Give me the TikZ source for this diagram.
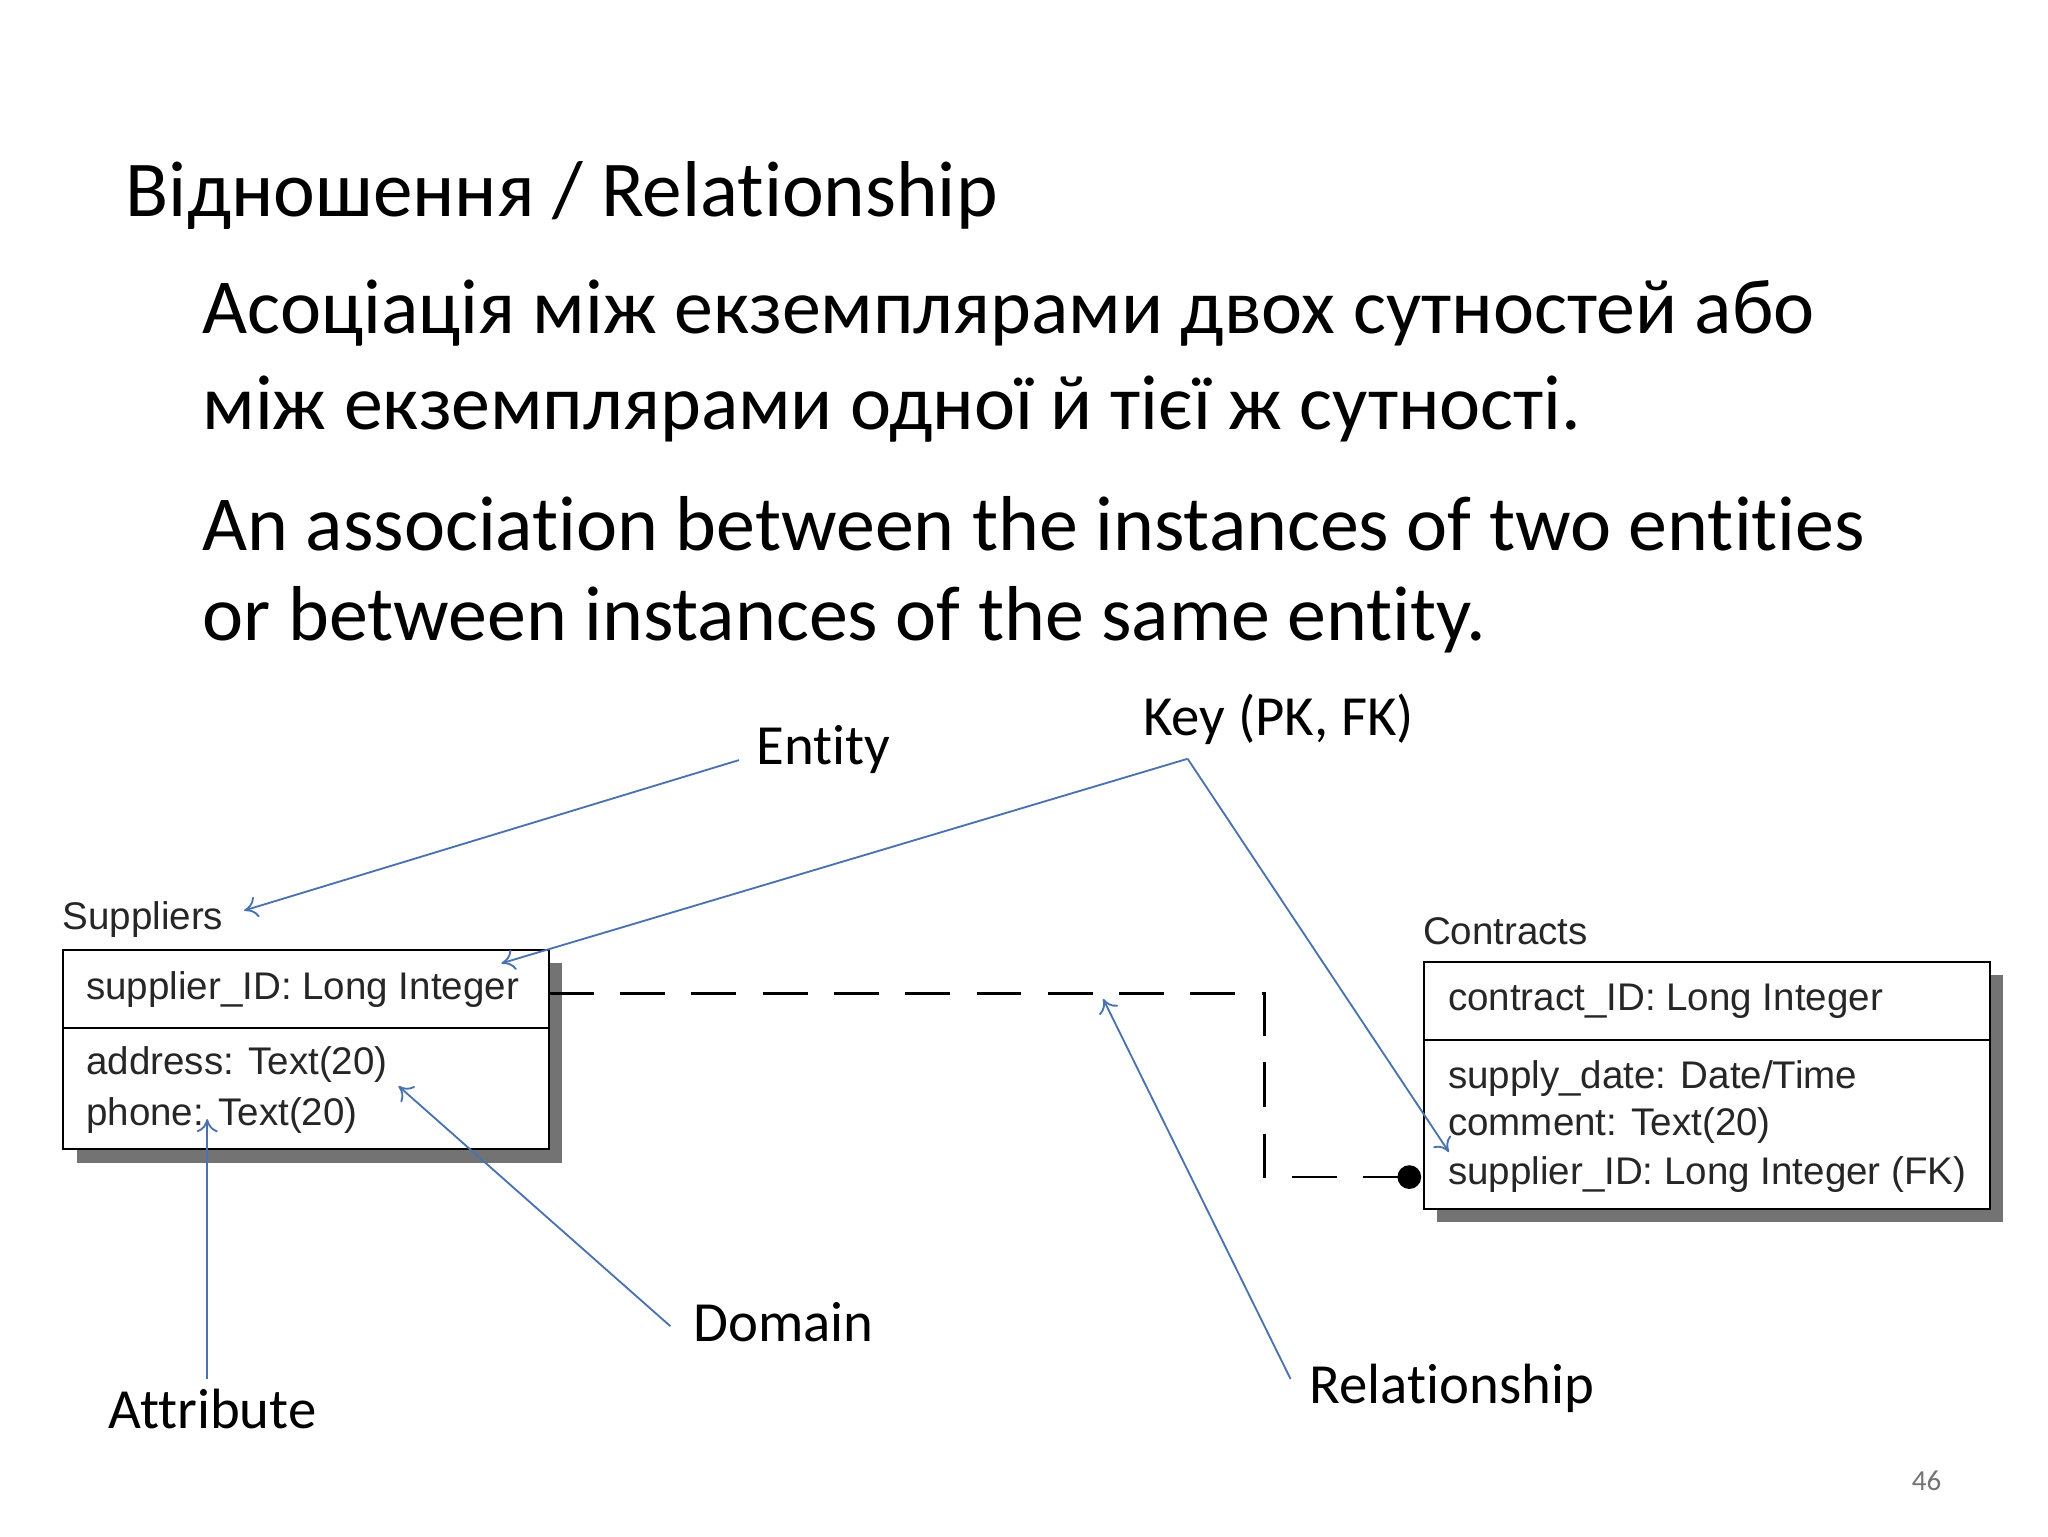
\documentclass[tikz,border=0pt]{standalone}
\usepackage{fontspec}
\usetikzlibrary{arrows.meta}
\setmainfont{Carlito}[Ligatures={NoCommon}]
\newfontfamily\tabfont{Liberation Sans}
\definecolor{ptrc}{RGB}{74,114,176}
\begin{document}
\begin{tikzpicture}[x=0.5pt,y=-0.5pt,
  lbl/.style={anchor=west,inner sep=0pt,font=\fontsize{21.5}{25}\selectfont},
  body/.style={anchor=west,inner sep=0pt,font=\fontsize{29.5}{34}\selectfont},
  tt/.style={anchor=west,inner sep=0pt,font=\tabfont\fontsize{14.6}{17}\selectfont,text=black!85},
  ptr/.style={draw=ptrc,line width=0.7pt,-{To[length=5pt,width=8pt]}},
  box/.style={draw=black,line width=0.8pt,fill=white},
  shad/.style={fill=black!55,draw=none}]
\useasboundingbox (0,0) rectangle (1552,1164);
\node[anchor=west,inner sep=0pt,font=\fontsize{30}{35}\selectfont] (title) at (95,148) {Відношення / Relationship};
\node[body] (l1) at (153,237) {Асоціація між екземплярами двох сутностей або};
\node[body] (l2) at (153,310) {між екземплярами одної й тієї ж сутності.};
\node[body] (l3) at (153,397) {An association between the instances of two entities};
\node[body] (l4) at (153,470) {or between instances of the same entity.};
% Suppliers
\fill[shad] (58,730) rectangle (426,881);
\draw[box] (48,720) rectangle (416,871);
\draw[line width=0.8pt] (48,779) -- (416,779);
\node[tt] (sup) at (47,697) {Suppliers};
\node[tt] (s1) at (65,750) {supplier\_ID: Long Integer};
\node[tt] (s2) at (65,807) {address: Text(20)};
\node[tt] (s3) at (65,845) {phone: Text(20)};
% Contracts
\fill[shad] (1089,739) rectangle (1518,926);
\draw[box] (1079,729) rectangle (1508,916);
\draw[line width=0.8pt] (1079,788) -- (1508,788);
\node[tt] (con) at (1078,706) {Contracts};
\node[tt] (c1) at (1097,759) {contract\_ID: Long Integer};
\node[tt] (c2) at (1097,817) {supply\_date: Date/Time};
\node[tt] (c3) at (1097,853) {comment: Text(20)};
\node[tt] (c4) at (1097,890) {supplier\_ID: Long Integer (FK)};
% relationship line
\coordinate (r0) at (416,753);
\coordinate (r1) at (958,753);
\coordinate (r2) at (958,892);
\coordinate (r3) at (1068,892);
\draw[line width=1pt,dash pattern=on 17pt off 10pt] (r0) -- (r1) -- (r2) -- (r3);
\fill (r3) circle (9);
% labels
\node[lbl] (ent) at (573,568) {Entity};
\node[lbl] (key) at (866,545) {Key (PK, FK)};
\node[lbl] (dom) at (525,1002) {Domain};
\node[lbl] (att) at (82,1068) {Attribute};
\node[lbl] (rel) at (992,1052) {Relationship};
\node[anchor=center,inner sep=0pt,font=\fontsize{11}{13}\selectfont,text=black!55] (pg) at (1460,1122) {46};
\coordinate (ke) at (900,575);
\draw[ptr] (560,576) -- (185,690);
\draw[ptr] (ke) -- (380,730);
\draw[ptr] (ke) -- (1098,873);
\draw[ptr] (508,1005) -- (302,823);
\draw[ptr] (157,1045) -- (157,848);
\draw[ptr] (978,1045) -- (836,757);
\end{tikzpicture}
\end{document}
